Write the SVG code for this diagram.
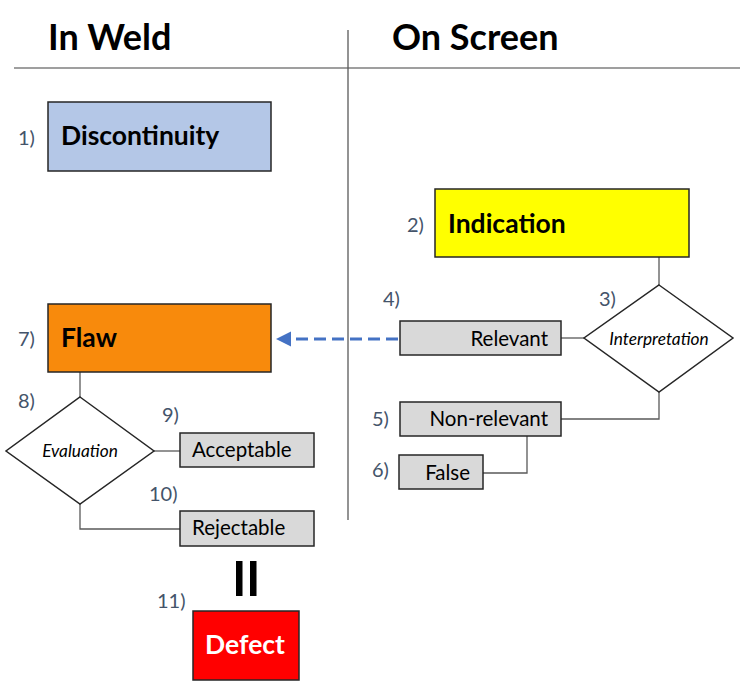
<svg xmlns="http://www.w3.org/2000/svg" width="740" height="681" viewBox="0 0 740 681">
<style>
.hdr{font-family:Lato,"Liberation Sans",sans-serif;font-weight:bold;font-size:36px;fill:#000}
.num{font-family:Lato,"Liberation Sans",sans-serif;font-size:20px;fill:#44546a}
.big{font-family:Lato,"Liberation Sans",sans-serif;font-weight:bold;font-size:26.5px;fill:#000}
.sm{font-family:Lato,"Liberation Sans",sans-serif;font-size:20.5px;fill:#000}
.it{font-family:Lato,"Liberation Sans",sans-serif;font-style:italic;font-size:17.3px;fill:#000}
.box{stroke:#262626;stroke-width:1.5}
.gray{fill:#d9d9d9;stroke:#262626;stroke-width:1.5}
.dia{fill:#fff;stroke:#262626;stroke-width:1.5}
.ln{fill:none;stroke:#595959;stroke-width:1.3}
</style>
<rect width="740" height="681" fill="#fff"/>
<g id="headers">
<text class="hdr" x="48" y="50">In Weld</text>
<text class="hdr" x="392" y="50">On Screen</text>
<line x1="14" y1="68" x2="740" y2="68" stroke="#7f7f7f" stroke-width="1.5"/>
<line x1="348" y1="30" x2="348" y2="520" stroke="#595959" stroke-width="1.3"/>
</g>
<g id="connectors">
<polyline class="ln" points="659,257 659,285"/>
<polyline class="ln" points="561,338 584,338"/>
<polyline class="ln" points="659,392 659,419 561,419"/>
<polyline class="ln" points="527,436 527,473 483,473"/>
<polyline class="ln" points="80,372 80,397"/>
<polyline class="ln" points="154,451 180,451"/>
<polyline class="ln" points="80,504 80,529 180,529"/>
<line x1="398" y1="339" x2="289" y2="339" stroke="#4472c4" stroke-width="3" stroke-dasharray="12,6"/>
<path d="M276,339 L291,331.5 L291,346.5 z" fill="#4472c4"/>
</g>
<g id="n1">
<text class="num" x="18" y="145">1)</text>
<rect class="box" x="48" y="102" width="223" height="69" fill="#b4c7e7"/>
<text class="big" x="61" y="145">Discontinuity</text>
</g>
<g id="n2">
<text class="num" x="407" y="232">2)</text>
<rect class="box" x="435" y="189" width="254" height="68" fill="#ffff00"/>
<text class="big" x="448" y="233">Indication</text>
</g>
<g id="n3">
<text class="num" x="599" y="306">3)</text>
<polygon class="dia" points="659,285 733,338 659,392 584,338"/>
<text class="it" x="659" y="345" text-anchor="middle">Interpretation</text>
</g>
<g id="n4">
<text class="num" x="383" y="306">4)</text>
<rect class="gray" x="400" y="321" width="161" height="34"/>
<text class="sm" x="548" y="346" text-anchor="end">Relevant</text>
</g>
<g id="n5">
<text class="num" x="372" y="426">5)</text>
<rect class="gray" x="400" y="402" width="161" height="34"/>
<text class="sm" x="548" y="426" text-anchor="end">Non-relevant</text>
</g>
<g id="n6">
<text class="num" x="372" y="477">6)</text>
<rect class="gray" x="399" y="455" width="84" height="34"/>
<text class="sm" x="470" y="480" text-anchor="end">False</text>
</g>
<g id="n7">
<text class="num" x="18" y="346">7)</text>
<rect class="box" x="48" y="304" width="223" height="68" fill="#f88a0c"/>
<text class="big" x="61" y="347">Flaw</text>
</g>
<g id="n8">
<text class="num" x="18" y="408">8)</text>
<polygon class="dia" points="80,397 154,451 80,504 6,451"/>
<text class="it" x="80" y="457" text-anchor="middle">Evaluation</text>
</g>
<g id="n9">
<text class="num" x="162" y="422">9)</text>
<rect class="gray" x="180" y="433" width="134" height="34"/>
<text class="sm" x="192" y="457">Acceptable</text>
</g>
<g id="n10">
<text class="num" x="149" y="501">10)</text>
<rect class="gray" x="180" y="511" width="134" height="35"/>
<text class="sm" x="192" y="535">Rejectable</text>
</g>
<g id="equals">
<rect x="236" y="561" width="6.5" height="35" fill="#000"/>
<rect x="250" y="561" width="6.5" height="35" fill="#000"/>
</g>
<g id="n11">
<text class="num" x="157" y="608">11)</text>
<rect class="box" x="193" y="611" width="106" height="69" fill="#ff0000"/>
<text class="big" x="245" y="654" text-anchor="middle" style="fill:#fff">Defect</text>
</g>
</svg>
